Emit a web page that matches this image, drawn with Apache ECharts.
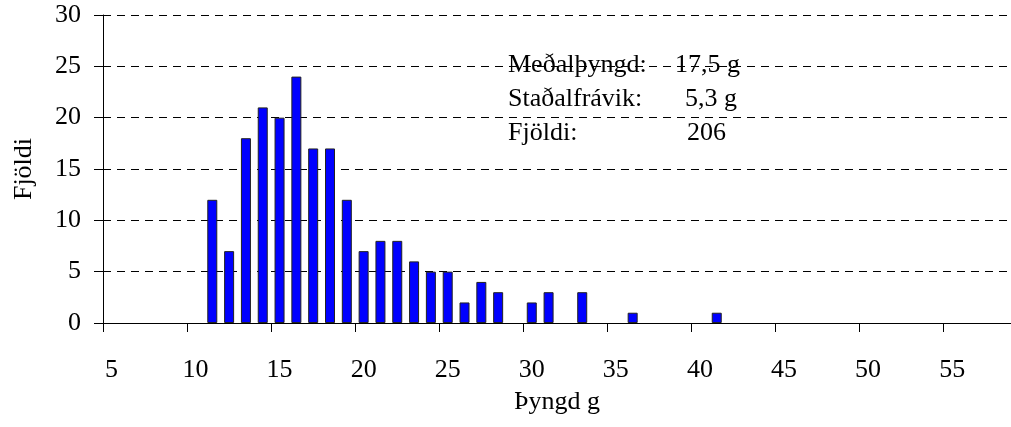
<!DOCTYPE html>
<html>
<head>
<meta charset="utf-8">
<script src="https://cdn.jsdelivr.net/npm/echarts@6/dist/echarts.min.js"></script>
<style>
html,body{margin:0;padding:0;background:#fff;}
#chart{width:1011px;height:427px;}
</style>
</head>
<body>
<div id="chart"></div>
<script>
// Category axis: weight bins (g)
const categories = ['5','6','7','8','9','10','11','12','13','14','15','16','17','18','19','20','21','22','23','24','25','26','27','28','29','30','31','32','33','34','35','36','37','38','39','40','41','42','43','44','45','46','47','48','49','50','51','52','53','54','55','56','57','58'];
// Bins that have fish, and their counts
const binWeights = ['11','12','13','14','15','16','17','18','19','20','21','22','23','24','25','26','27','28','30','31','33','36','41'];
const binCounts  = [12, 7, 18, 21, 20, 24, 17, 17, 12, 7, 8, 8, 6, 5, 5, 2, 4, 3, 2, 3, 3, 1, 1];
const yTicks = [0, 5, 10, 15, 20, 25, 30];
const statLabels = ['Meðalþyngd:', 'Staðalfrávik:', 'Fjöldi:'];
const statValues = ['17,5 g', '5,3 g', '206'];

const FONT = '"Liberation Serif","Times New Roman",serif';
const seriesData = categories.map(c => {
  const i = binWeights.indexOf(c);
  return i >= 0 ? binCounts[i] : null;
});

const chart = echarts.init(document.getElementById('chart'));
const valueX = [675, 685, 687];
const rowY = [65, 99, 133];
const graphics = [];
statLabels.forEach((t, i) => {
  graphics.push({type:'text', left:508, top:rowY[i]-13, z:10,
    style:{text:t, font:'26px ' + FONT, fill:'#000'}});
  graphics.push({type:'text', left:valueX[i], top:rowY[i]-13, z:10,
    style:{text:statValues[i], font:'26px ' + FONT, fill:'#000'}});
});

chart.setOption({
  animation:false,
  backgroundColor:'#fff',
  grid:{left:103, top:15, width:918, height:308, containLabel:false},
  xAxis:{
    type:'category', data:categories, boundaryGap:true,
    name:'Þyngd g', nameLocation:'middle', nameGap:66,
    nameTextStyle:{fontFamily:FONT, fontSize:26, color:'#000'},
    axisLine:{lineStyle:{color:'#000', width:1}},
    axisTick:{show:true, interval:4, length:9, inside:false, lineStyle:{color:'#000'}},
    axisLabel:{interval:4, margin:34, fontFamily:FONT, fontSize:26, color:'#000'},
    splitLine:{show:false}
  },
  yAxis:{
    type:'value', min:yTicks[0], max:yTicks[yTicks.length-1], interval:5,
    name:'Fjöldi', nameLocation:'middle', nameGap:66,
    nameTextStyle:{fontFamily:FONT, fontSize:26, color:'#000'},
    axisLine:{show:true, lineStyle:{color:'#000', width:1}},
    axisTick:{show:true, length:9, lineStyle:{color:'#000'}},
    axisLabel:{margin:22, fontFamily:FONT, fontSize:26, color:'#000'},
    splitLine:{show:true, lineStyle:{color:'#000', width:1, type:[8,6]}}
  },
  series:[{
    type:'bar', data:seriesData, barWidth:10,
    itemStyle:{color:'#0000FF', borderColor:'#222', borderWidth:1}
  }],
  graphic:graphics
});
</script>
</body>
</html>
